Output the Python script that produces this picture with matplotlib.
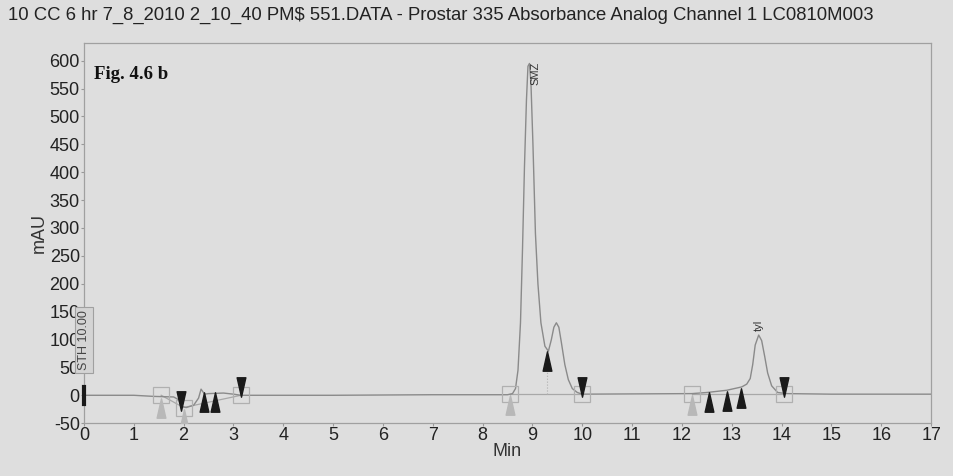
import numpy as np
import matplotlib
matplotlib.use('Agg')
import matplotlib.pyplot as plt
from matplotlib.path import Path

# chromatogram trace (min, mAU)
time = [0, 1.0, 1.4, 1.8, 1.9, 1.97, 2.05, 2.2, 2.3, 2.35, 2.42, 2.5, 2.8, 3.0, 3.15,
        5.0, 7.0, 8.5, 8.6, 8.66, 8.71, 8.76, 8.8, 8.84, 8.88, 8.91, 8.94, 8.97, 9.01,
        9.06, 9.11, 9.17, 9.25, 9.32, 9.38, 9.43, 9.48, 9.53, 9.58, 9.65, 9.72, 9.8,
        9.9, 10.0, 12.2, 12.5, 12.9, 13.2, 13.3, 13.37, 13.42, 13.47, 13.54, 13.6,
        13.66, 13.72, 13.8, 13.92, 14.1, 15.0, 17.0]
signal = [0, 0, -2, -3, -8, -20, -22, -18, -5, 11, 2, 3, 4, 2, 0,
          0, 1, 1, 3, 12, 45, 130, 260, 410, 530, 590, 595, 560, 450,
          290, 200, 130, 88, 79, 100, 122, 130, 122, 95, 55, 28, 12,
          5, 2, 3, 5, 9, 15, 20, 30, 55, 90, 108, 98, 70, 40, 17, 5, 3, 2, 2]

# integration baselines
base_t = [[1.55, 2.0, 3.15], [8.55, 10.0], [12.2, 14.05]]
base_v = [[0, -22, 0], [2, 2], [3, 3]]

# peak event markers
start_t = [1.55, 2.0, 8.55, 12.2]
start_v = [-22, -42, -18, -18]
end_t = [1.95, 3.15, 10.0, 14.05]
end_v = [-10, 15, 15, 15]
split_t = [2.4, 2.63, 9.3, 12.55, 12.9, 13.18]
split_v = [-12, -12, 62, -12, -10, -5]
box_t = [1.55, 2.0, 3.15, 8.55, 10.0, 12.2, 14.05]
box_v = [0, -22, 0, 2, 2, 3, 3]

peak_names = ['SMZ', 'tyl']
peak_t = [9.06, 13.55]
peak_v = [598, 115]

title = '10 CC 6 hr 7_8_2010 2_10_40 PM$ 551.DATA - Prostar 335 Absorbance Analog Channel 1 LC0810M003'

bg = '#dedede'
plt.rcParams['font.family'] = ['Liberation Sans', 'DejaVu Sans']
plt.rcParams['axes.unicode_minus'] = False

up = Path([(-0.45, -1), (0.45, -1), (0, 1), (-0.45, -1)],
          [Path.MOVETO, Path.LINETO, Path.LINETO, Path.CLOSEPOLY])
down = Path([(-0.45, 1), (0.45, 1), (0, -1), (-0.45, 1)],
            [Path.MOVETO, Path.LINETO, Path.LINETO, Path.CLOSEPOLY])

fig = plt.figure(figsize=(9.54, 4.76), dpi=100, facecolor=bg)
ax = fig.add_axes([0.088, 0.111, 0.888, 0.799], facecolor=bg)

for bt, bv in zip(base_t, base_v):
    ax.plot(bt, bv, color='#a8a8a8', lw=0.9, zorder=2)
ax.plot([9.3, 9.3], [2, 62], color='#b0b0b0', lw=0.8, ls=':', zorder=2)
ax.plot(time, signal, color='#8a8a8a', lw=1.0, zorder=3)

ax.plot(box_t, box_v, ls='none', marker='s', ms=11, mfc='none', mec='#b0b0b0', mew=0.9, zorder=4)
ax.plot(start_t, start_v, ls='none', marker=up, ms=14, color='#b8b8b8', zorder=5)
ax.plot(end_t, end_v, ls='none', marker=down, ms=14, color='#1a1a1a', zorder=5)
ax.plot(split_t, split_v, ls='none', marker=up, ms=14, color='#1a1a1a', zorder=5)
ax.plot([0, 0], [-15, 15], color='#1a1a1a', lw=3, zorder=6, clip_on=False)

for name, t, v in zip(peak_names, peak_t, peak_v):
    ax.text(t, v, name, rotation=90, fontsize=8, ha='center', va='top' if name == 'SMZ' else 'bottom',
            color='#333333', zorder=6)

ax.text(0, 45, 'STH 10.00', rotation=90, fontsize=9, ha='center', va='bottom', color='#444444',
        zorder=7, clip_on=False,
        bbox=dict(boxstyle='square,pad=0.25', fc='#d4d4d4', ec='#a0a0a0', lw=0.8))

ax.text(0.2, 575, 'Fig. 4.6 b', family='Liberation Serif', fontweight='bold', fontsize=13.5,
        va='center', color='#111111')

ax.set_xlim(0, 17)
ax.set_ylim(-50, 632)
ax.set_xticks(range(0, 18))
ax.set_yticks(range(-50, 601, 50))
ax.tick_params(axis='both', which='major', labelsize=13, length=2, color='#999999',
               labelcolor='#222222', pad=1)
for s in ax.spines.values():
    s.set_color('#a0a0a0')
    s.set_linewidth(0.9)
ax.set_xlabel('Min', fontsize=13, color='#333333', labelpad=-1)
ax.set_ylabel('mAU', fontsize=13, color='#333333', labelpad=1)

fig.text(0.008, 0.968, title, fontsize=13.3, ha='left', va='center', color='#222222')

fig.savefig('out.png', dpi=100, facecolor=bg)
